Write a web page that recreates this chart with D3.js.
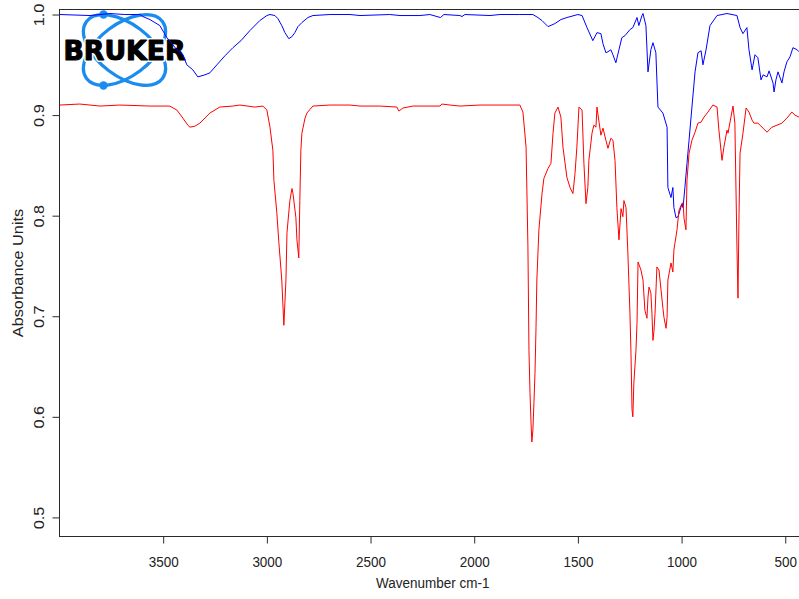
<!DOCTYPE html>
<html>
<head>
<meta charset="utf-8">
<script src="https://cdn.jsdelivr.net/npm/d3@7"></script>
<style>
  body { margin: 0; background: #fff; }
  svg { display: block; }
</style>
</head>
<body>
<div id="vis-spectrum"></div>
<script>
// Spectrum values ---------------------------------------------------------------------------------------------------
const blueWn = [3998, 3853, 3757, 3685, 3612, 3598, 3564, 3516, 3482, 3434, 3405, 3386, 3357, 3333, 3299, 3275, 3241,
  3202, 3164, 3125, 3082, 3034, 3000, 2985, 2961, 2947, 2928, 2913, 2894, 2879, 2865, 2850, 2831, 2802, 2778, 2696, 2599,
  2551, 2407, 2358, 2262, 2214, 2163, 2146, 2069, 2059, 2045, 1924, 1876, 1780, 1717, 1693, 1673, 1644, 1611, 1582, 1553,
  1500, 1480, 1456, 1428, 1408, 1389, 1379, 1365, 1355, 1341, 1331, 1317, 1302, 1288, 1273, 1249, 1235, 1215, 1206, 1191,
  1186, 1172, 1162, 1148, 1138, 1124, 1114, 1090, 1070, 1066, 1051, 1042, 1037, 1027, 1017, 998, 993, 984, 974, 964, 950,
  935, 921, 906, 897, 882, 863, 829, 781, 733, 718, 704, 685, 675, 660, 646, 632, 617, 607, 588, 578, 559, 554, 545, 535,
  516, 506, 492, 477, 463, 443, 434];
const blueAbs = [1.000, 0.999, 1.001, 1.000, 1.000, 0.998, 0.995, 0.989, 0.977, 0.965, 0.960, 0.950, 0.945, 0.938, 0.940,
  0.942, 0.950, 0.959, 0.967, 0.974, 0.984, 0.994, 0.999, 1.000, 0.999, 0.996, 0.989, 0.982, 0.976, 0.978, 0.982, 0.988,
  0.992, 0.997, 0.999, 1.000, 1.000, 0.999, 1.000, 0.999, 0.999, 1.000, 0.997, 1.000, 0.999, 0.998, 1.000, 0.999, 1.000,
  1.000, 1.000, 0.997, 0.994, 0.988, 0.991, 0.995, 0.997, 1.000, 0.999, 0.987, 0.974, 0.982, 0.981, 0.971, 0.962, 0.963,
  0.965, 0.960, 0.952, 0.965, 0.977, 0.979, 0.985, 0.987, 0.997, 0.989, 0.999, 1.001, 0.989, 0.943, 0.965, 0.972, 0.962,
  0.908, 0.902, 0.888, 0.828, 0.818, 0.828, 0.808, 0.798, 0.799, 0.812, 0.808, 0.828, 0.852, 0.875, 0.908, 0.943, 0.962,
  0.964, 0.950, 0.965, 0.989, 0.999, 1.001, 0.999, 0.987, 0.981, 0.987, 0.965, 0.945, 0.960, 0.957, 0.935, 0.940, 0.938,
  0.944, 0.932, 0.923, 0.935, 0.943, 0.932, 0.943, 0.953, 0.958, 0.967, 0.965, 0.963];

const redWn = [3998, 3902, 3805, 3709, 3564, 3468, 3434, 3405, 3381, 3371, 3347, 3323, 3275, 3227, 3164, 3130, 3058, 3019,
  3000, 2985, 2971, 2966, 2952, 2942, 2928, 2923, 2918, 2908, 2903, 2889, 2879, 2874, 2860, 2855, 2846, 2841, 2836, 2831,
  2816, 2807, 2778, 2696, 2599, 2551, 2455, 2373, 2363, 2344, 2296, 2165, 2156, 2117, 2069, 1972, 1876, 1789, 1780, 1765,
  1750, 1741, 1736, 1731, 1726, 1722, 1717, 1712, 1707, 1702, 1698, 1688, 1673, 1664, 1644, 1630, 1620, 1611, 1596, 1582,
  1572, 1553, 1538, 1524, 1514, 1505, 1495, 1480, 1471, 1461, 1452, 1447, 1432, 1423, 1413, 1408, 1398, 1389, 1379, 1365,
  1355, 1341, 1331, 1321, 1312, 1302, 1292, 1283, 1278, 1268, 1259, 1249, 1244, 1239, 1235, 1230, 1220, 1215, 1210, 1196,
  1186, 1177, 1167, 1162, 1157, 1148, 1143, 1138, 1133, 1128, 1119, 1109, 1099, 1090, 1085, 1075, 1070, 1066, 1051, 1042,
  1037, 1022, 1013, 1003, 993, 988, 979, 974, 964, 950, 935, 921, 906, 892, 873, 849, 829, 820, 805, 796, 781, 776, 762,
  752, 743, 733, 728, 723, 718, 704, 689, 675, 660, 651, 632, 607, 588, 564, 540, 516, 492, 468, 453, 434];
const redAbs = [0.910, 0.911, 0.909, 0.910, 0.909, 0.909, 0.905, 0.897, 0.890, 0.888, 0.889, 0.892, 0.902, 0.908, 0.909,
  0.910, 0.908, 0.909, 0.905, 0.888, 0.865, 0.835, 0.803, 0.773, 0.736, 0.713, 0.691, 0.736, 0.783, 0.815, 0.827, 0.822,
  0.798, 0.776, 0.758, 0.815, 0.865, 0.882, 0.897, 0.902, 0.909, 0.910, 0.910, 0.909, 0.909, 0.908, 0.904, 0.907, 0.909,
  0.909, 0.911, 0.910, 0.909, 0.910, 0.910, 0.910, 0.910, 0.903, 0.868, 0.769, 0.666, 0.624, 0.594, 0.575, 0.587, 0.614,
  0.643, 0.689, 0.736, 0.786, 0.822, 0.837, 0.847, 0.852, 0.882, 0.902, 0.908, 0.898, 0.868, 0.838, 0.828, 0.822, 0.842,
  0.868, 0.908, 0.905, 0.852, 0.812, 0.828, 0.855, 0.882, 0.890, 0.888, 0.908, 0.893, 0.880, 0.887, 0.875, 0.867, 0.877,
  0.875, 0.855, 0.808, 0.776, 0.807, 0.799, 0.815, 0.808, 0.763, 0.703, 0.663, 0.607, 0.600, 0.634, 0.666, 0.693, 0.754,
  0.746, 0.736, 0.706, 0.698, 0.719, 0.729, 0.723, 0.703, 0.676, 0.686, 0.703, 0.749, 0.746, 0.726, 0.708, 0.699, 0.688,
  0.699, 0.736, 0.753, 0.744, 0.766, 0.786, 0.805, 0.810, 0.813, 0.797, 0.786, 0.835, 0.862, 0.875, 0.883, 0.892, 0.893,
  0.898, 0.903, 0.910, 0.908, 0.885, 0.855, 0.868, 0.885, 0.882, 0.898, 0.909, 0.892, 0.769, 0.718, 0.802, 0.862, 0.882,
  0.907, 0.903, 0.895, 0.892, 0.892, 0.887, 0.883, 0.888, 0.890, 0.892, 0.897, 0.903, 0.900, 0.898];

const xTicks = [3500, 3000, 2500, 2000, 1500, 1000, 500];
const yTicks = [0.5, 0.6, 0.7, 0.8, 0.9, 1.0];
const xTitle = "Wavenumber cm-1";
const yTitle = "Absorbance Units";

// Initialize the canvas -------------------------------------------------------------------------------------------
const canvasWidth = 799;
const canvasHeight = 599;

const leftPadding = 59.5;
const topPadding = 9.5;
const plotRight = 806;
const plotBottom = 536.5;

const fontFamily = "'Liberation Sans', Arial, sans-serif";
const fontSize = 15.5;
const squeeze = 0.87;   // horizontal text is narrow in the picture
const stretch = 1.05;   // vertical text runs a little longer
const axisColor = "#2a2a2a";
const tickLength = 7;

const svg = d3.select("#vis-spectrum")
  .append("svg")
  .attr("width", canvasWidth)
  .attr("height", canvasHeight)
  .attr("viewBox", [0, 0, canvasWidth, canvasHeight]);

const xScale = d3.scaleLinear()
  .domain([4000, 400])
  .range([leftPadding, plotRight]);
const yScale = d3.scaleLinear()
  .domain([0.481, 1.005])
  .range([plotBottom, topPadding]);

// Logo ------------------------------------------------------------------------------------------------------------
const logoBlue = "#1a8cf0";
const logo = svg.append("g")
  .attr("transform", "translate(124.5, 50)");

[37, -37].forEach(function(angle) {
  logo.append("ellipse")
    .attr("rx", 47.5)
    .attr("ry", 26)
    .attr("transform", "rotate(" + angle + ")")
    .style("fill", "none")
    .style("stroke", logoBlue)
    .style("stroke-width", 3.2);
});

[-35.5, 35.5].forEach(function(dy) {
  logo.append("circle")
    .attr("cx", -21)
    .attr("cy", dy)
    .attr("r", 4.2)
    .style("fill", logoBlue);
});

// white halo first, then the heavy black letters
["#fff", "#000"].forEach(function(colour, i) {
  logo.append("text")
    .text("BRUKER")
    .attr("x", -61)
    .attr("y", 10)
    .attr("textLength", 122)
    .attr("lengthAdjust", "spacingAndGlyphs")
    .style("font-family", "'DejaVu Sans', sans-serif")
    .style("font-weight", "bold")
    .style("font-size", "26px")
    .style("fill", "#000")
    .style("stroke", colour)
    .style("stroke-width", i == 0 ? 4 : 1.1)
    .style("stroke-linejoin", "round");
});

// Axes and box ----------------------------------------------------------------------------------------------------
const xAxis = svg.append("g")
  .attr("transform", "translate(0, " + plotBottom + ")")
  .attr("color", axisColor)
  .call(d3.axisBottom(xScale).tickValues(xTicks).tickSize(tickLength).tickFormat(d3.format("d")));
xAxis.select(".domain").remove();
xAxis.selectAll("text")
  .attr("y", null)
  .attr("dy", null)
  .attr("transform", "translate(0, 30.5) scale(" + squeeze + ", 1)")
  .style("fill", "#222")
  .style("font-family", fontFamily)
  .style("font-size", fontSize + "px");

const yAxis = svg.append("g")
  .attr("transform", "translate(" + leftPadding + ", 0)")
  .attr("color", axisColor)
  .call(d3.axisLeft(yScale).tickValues(yTicks).tickSize(tickLength).tickFormat(d3.format(".1f")));
yAxis.select(".domain").remove();
yAxis.selectAll("text")
  .attr("x", null)
  .attr("dy", null)
  .attr("transform", "translate(-16, 0) scale(1, " + stretch + ") rotate(-90)")
  .style("text-anchor", "middle")
  .style("fill", "#222")
  .style("font-family", fontFamily)
  .style("font-size", fontSize + "px");

svg.append("rect")
  .attr("x", leftPadding)
  .attr("y", topPadding)
  .attr("width", plotRight - leftPadding)
  .attr("height", plotBottom - topPadding)
  .style("fill", "none")
  .style("stroke", axisColor)
  .style("stroke-width", 1);

svg.append("text")
  .text(xTitle)
  .attr("transform", "translate(" + (leftPadding + plotRight) / 2 + ", 588) scale(" + squeeze + ", 1)")
  .style("text-anchor", "middle")
  .style("fill", "#222")
  .style("font-family", fontFamily)
  .style("font-size", fontSize + "px");

svg.append("text")
  .text(yTitle)
  .attr("transform", "translate(23, " + (topPadding + plotBottom) / 2 + ") scale(1, " + stretch + ") rotate(-90)")
  .style("text-anchor", "middle")
  .style("fill", "#222")
  .style("font-family", fontFamily)
  .style("font-size", fontSize + "px");

// Spectra ---------------------------------------------------------------------------------------------------------
const line = d3.line()
  .x(d => xScale(d[0]))
  .y(d => yScale(d[1]));

svg.append("path")
  .datum(d3.zip(blueWn, blueAbs))
  .attr("d", line)
  .style("fill", "none")
  .style("stroke", "#0000ff")
  .style("stroke-width", 1);

svg.append("path")
  .datum(d3.zip(redWn, redAbs))
  .attr("d", line)
  .style("fill", "none")
  .style("stroke", "#ff0000")
  .style("stroke-width", 1);
</script>
</body>
</html>
